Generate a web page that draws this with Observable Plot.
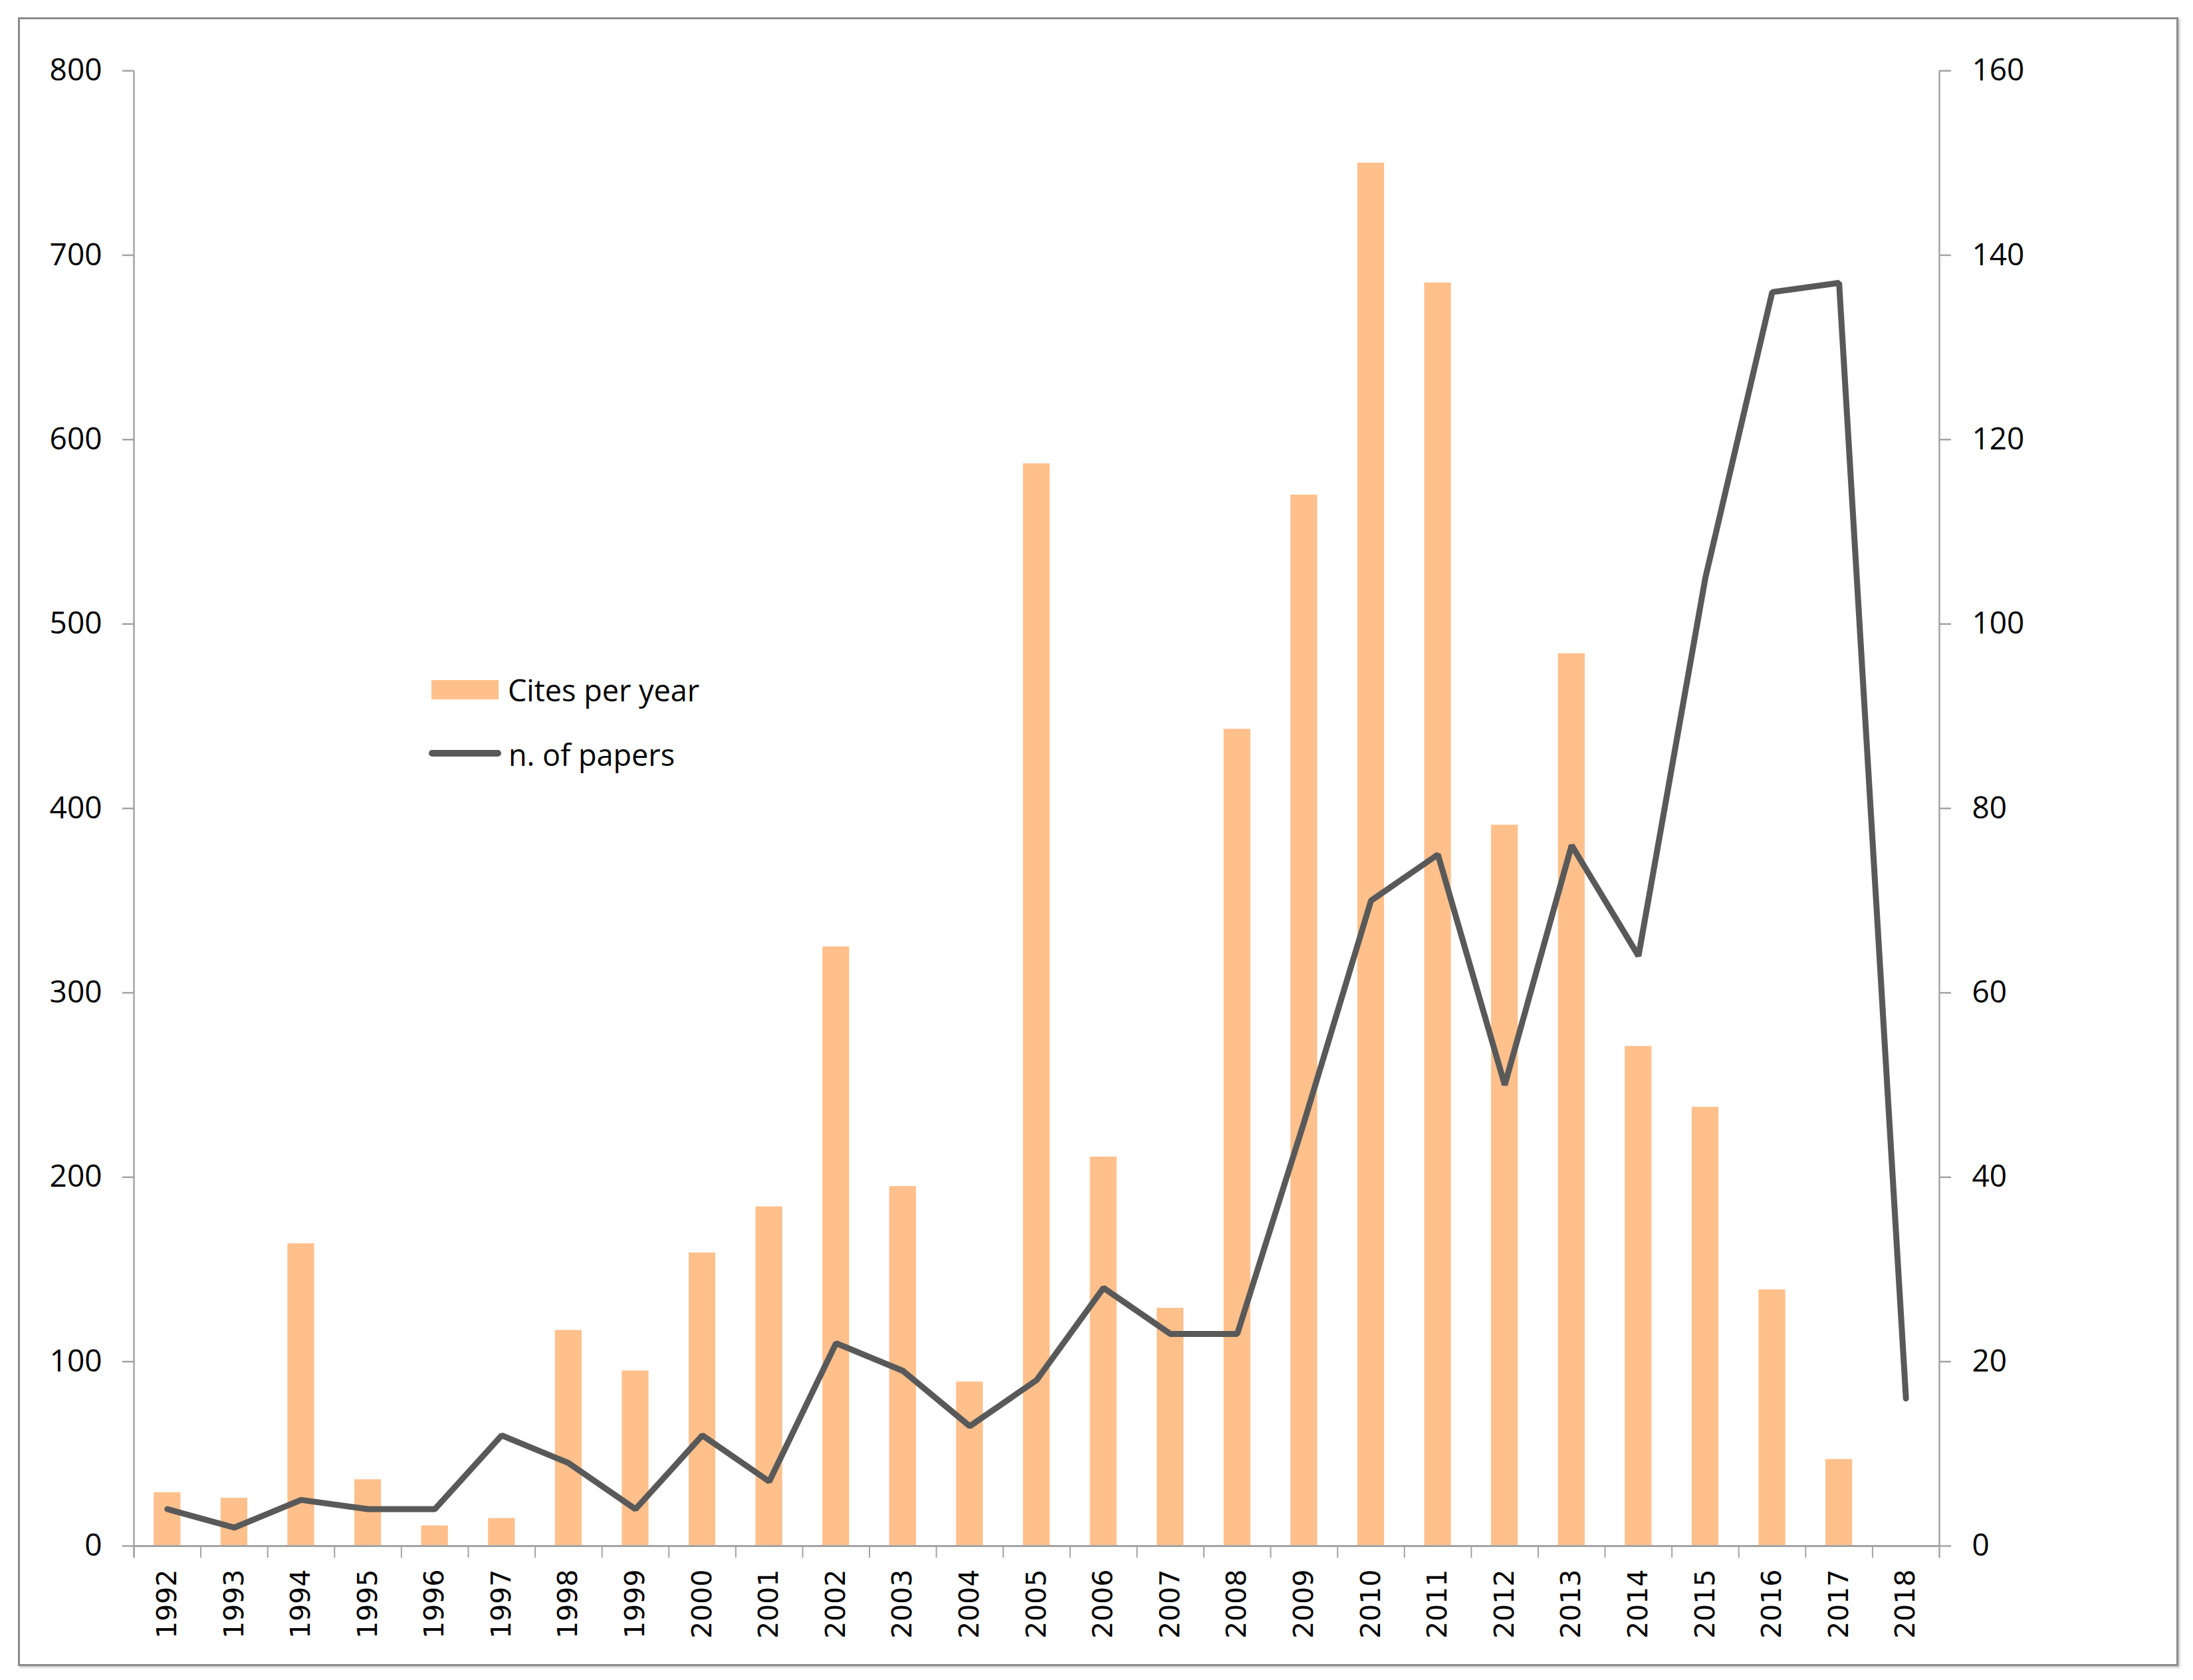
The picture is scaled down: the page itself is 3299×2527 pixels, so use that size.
<!DOCTYPE html>
<html><head><meta charset="utf-8">
<script src="https://cdn.jsdelivr.net/npm/d3@7"></script>
<script src="https://cdn.jsdelivr.net/npm/@observablehq/plot@0.6"></script>
<style>
html,body{margin:0;padding:0;background:#fff;}
#wrap{position:relative;width:3299px;height:2527px;overflow:hidden;}
#frame{position:absolute;left:27px;top:26px;width:3244px;height:2474px;border:3px solid #8c8c8c;box-shadow:2px 2px 3px rgba(0,0,0,0.25);}
#chart{position:absolute;left:0;top:0;}
#legend{position:absolute;left:620px;top:980px;}
</style></head><body>
<div id="wrap"><div id="frame"></div><div id="chart"></div>
<svg id="legend" width="560" height="200" font-family="Open Sans" font-size="45">
  <rect x="29" y="43" width="101" height="29" fill="#FFC08C"></rect>
  <text x="144" y="75" fill="#000">Cites per year</text>
  <line x1="30" x2="129" y1="153" y2="153" stroke="#595959" stroke-width="10" stroke-linecap="round"></line>
  <text x="145" y="172" fill="#000">n. of papers</text>
</svg>
</div>
<script>
const years = ["1992","1993","1994","1995","1996","1997","1998","1999","2000","2001","2002","2003","2004","2005","2006","2007","2008","2009","2010","2011","2012","2013","2014","2015","2016","2017","2018"];
const cites = [29,26,164,36,11,15,117,95,159,184,325,195,89,587,211,129,443,570,750,685,391,484,271,238,139,47,null];
const papers = [4,2,5,4,4,12,9,4,12,7,22,19,13,18,28,23,23,46,70,75,50,76,64,105,136,137,16];
const leftTicks = [0,100,200,300,400,500,600,700,800];
const rightTicks = [0,20,40,60,80,100,120,140,160];

const W = 3299, H = 2527, ML = 201, MR = 382, MT = 106, MB = 202;
const step = (W - ML - MR) / years.length;
const k = 800 / 160;
const rows = years.map((y, i) => ({year: y, cites: cites[i], papers: papers[i]}));
const axisGray = "#a3a3a3";
const tickBelow = -18 / ((H - MT - MB) / 800);

const chart = Plot.plot({
  width: W, height: H,
  marginLeft: ML, marginRight: MR, marginTop: MT, marginBottom: MB,
  style: {fontFamily: "Open Sans", background: "transparent", overflow: "visible"},
  x: {type: "band", domain: years, paddingInner: 0.6, paddingOuter: 0.3, align: 0.5, round: false},
  y: {domain: [0, 800]},
  marks: [
    Plot.barY(rows.filter(d => d.cites != null), {x: "year", y: "cites", fill: "#FFC08C"}),
    Plot.ruleY([0], {stroke: axisGray, strokeWidth: 3}),
    Plot.ruleX(years, {x: d => d, dx: -step / 2, y1: 0, y2: tickBelow, stroke: axisGray, strokeWidth: 2}),
    Plot.ruleX([years[0]], {x: d => d, dx: -step / 2, y1: tickBelow, y2: 800, stroke: axisGray, strokeWidth: 2.5}),
    Plot.ruleX([years[years.length - 1]], {x: d => d, dx: step / 2, y1: tickBelow, y2: 800, stroke: axisGray, strokeWidth: 2.5}),
    Plot.lineY(rows, {x: "year", y: d => d.papers * k, stroke: "#595959", strokeWidth: 9, strokeLinejoin: "miter", strokeLinecap: "round"}),
    Plot.axisY(leftTicks, {anchor: "left", tickSize: 17, tickPadding: 31, fontSize: 46, stroke: axisGray, strokeWidth: 2.5, fill: "#000", label: null}),
    Plot.axisY(rightTicks.map(v => v * k), {anchor: "right", tickFormat: d => String(d / k), tickSize: 17, tickPadding: 32, fontSize: 46, stroke: axisGray, strokeWidth: 2.5, fill: "#000", label: null}),
    Plot.axisX({anchor: "bottom", tickSize: 0, tickRotate: -90, tickPadding: 35, fontSize: 41, fontFamily: "DejaVu Sans", fill: "#000", label: null})
  ]
});
document.getElementById("chart").appendChild(chart);
</script>
</body></html>
